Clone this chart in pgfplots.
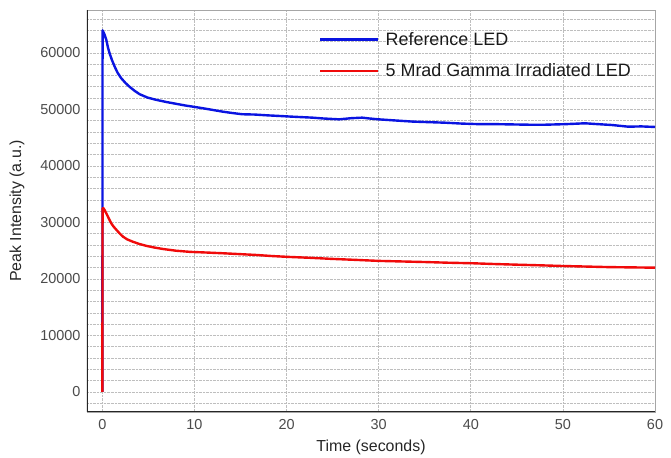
\documentclass[border=0pt]{standalone}
\usepackage{fontspec}
\setmainfont{Liberation Sans}
\usepackage{pgfplots}
\pgfplotsset{compat=1.18}

\definecolor{refblue}{RGB}{10,20,225}
\definecolor{gamred}{RGB}{240,10,10}
\definecolor{ticktext}{RGB}{75,75,75}
\definecolor{gridgray}{RGB}{190,190,190}

\begin{document}
\begin{tikzpicture}
\path[use as bounding box] (-87bp,-46bp) rectangle (584bp,412bp);
\begin{axis}[
  at={(0,0)}, anchor=south west,
  scale only axis,
  width=568bp, height=402bp,
  xmin=-1.67, xmax=60,
  ymin=-3540, ymax=67600,
  xtick={0,10,20,30,40,50,60},
  ytick={0,10000,20000,30000,40000,50000,60000},
  minor ytick={-2000,2000,4000,6000,8000,12000,14000,16000,18000,22000,24000,26000,28000,32000,34000,36000,38000,42000,44000,46000,48000,52000,54000,56000,58000,62000,64000,66000},
  major tick length=0pt, minor tick length=0pt,
  scaled y ticks=false,
  /pgf/number format/assume math mode=true,
  yticklabel={\pgfmathprintnumber[fixed,1000 sep={}]{\tick}},
  tick label style={font=\fontsize{14.5}{16}\selectfont, text=ticktext},
  xticklabel style={yshift=-4bp},
  yticklabel style={xshift=-3bp},
  xlabel={Time (seconds)},
  ylabel={Peak Intensity (a.u.)},
  label style={font=\fontsize{16}{18}\selectfont, text=black!85},
  xlabel style={yshift=-3bp},
  ylabel style={yshift=9bp},
  xmajorgrids, ymajorgrids, yminorgrids,
  major grid style={gridgray, densely dotted, line width=0.7bp},
  minor grid style={gridgray, densely dotted, line width=0.7bp},
  axis line style={draw=gray!70, line width=0.8bp},
  legend style={draw=none, fill=none, at={(0.405,0.955)}, anchor=north west,
    font=\fontsize{18}{20}\selectfont, text=black!90,
    row sep=13bp, inner sep=2bp},
  legend cell align=left,
  legend image code/.code={\draw[#1] (0bp,0bp) -- (58bp,0bp);},
]
\addplot[refblue, line width=2.4bp, line join=round] table {
x y
0 0
0.02 64000
0.2 63400
0.43 62300
0.6 61000
0.79 59900
1.05 58700
1.33 57600
1.65 56500
2.06 55500
2.5 54700
2.96 54000
3.5 53300
4.04 52700
4.9 52100
5.85 51700
7.0 51300
8.0 51000
9.0 50700
10.2 50400
11.5 50050
13.1 49600
14.2 49350
15.2 49150
16.5 49100
18.0 48950
19.2 48850
20.3 48750
21.5 48650
22.8 48550
24.0 48400
25.7 48250
27.0 48450
28.2 48550
29.0 48400
30.0 48250
31.8 48050
33.7 47850
35.5 47750
37.3 47650
39.0 47500
40.9 47400
42.7 47400
44.5 47350
46.3 47300
48.1 47300
50.3 47400
52.4 47550
53.8 47400
55.3 47250
57.1 46950
58.5 47000
60.0 46900
};
\addlegendentry{\hspace*{4bp}Reference LED}
\addplot[gamred, line width=2.4bp, line join=round] table {
x y
0 0
0.02 32500
0.14 32500
0.43 31600
0.7 30700
0.98 29800
1.25 29200
1.52 28700
1.85 28100
2.23 27500
2.7 27000
3.3 26600
4.0 26200
4.8 25850
5.7 25550
6.6 25300
8.0 25000
9.5 24800
11.3 24680
13.1 24550
14.9 24400
16.7 24250
18.5 24050
20.3 23900
22.5 23750
25.0 23550
27.5 23380
30.0 23200
32.5 23100
35.0 23000
37.5 22880
40.2 22780
42.5 22650
45.0 22530
47.5 22420
49.9 22300
52.5 22200
55.0 22100
57.5 22050
60.0 22000
};
\addlegendentry{\hspace*{4bp}5 Mrad Gamma Irradiated LED}
\draw[black!85, line width=1.6bp] (rel axis cs:0,1) -- (rel axis cs:0,0) -- (rel axis cs:1,0);
\end{axis}
\end{tikzpicture}
\end{document}
